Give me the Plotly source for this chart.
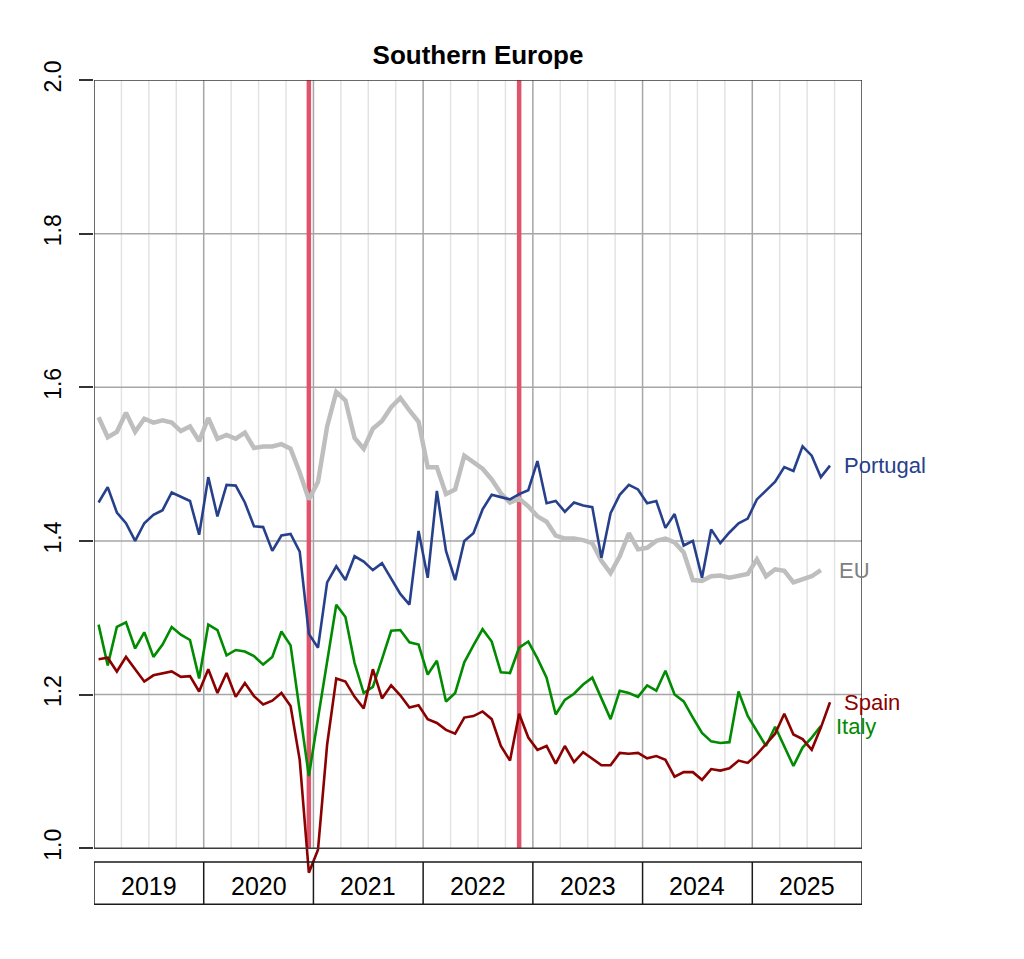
import plotly.graph_objects as go
import pandas as pd

# ---------------- data ----------------
start_month = "2019-01"
portugal = [1.450, 1.470, 1.437, 1.423, 1.400, 1.423, 1.434, 1.440, 1.463, 1.457, 1.452, 1.408,
            1.483, 1.432, 1.473, 1.472, 1.450, 1.419, 1.418, 1.387, 1.407, 1.409, 1.386, 1.279,
            1.261, 1.346, 1.367, 1.349, 1.380, 1.373, 1.362, 1.371, 1.351, 1.331, 1.317, 1.413,
            1.352, 1.465, 1.387, 1.349, 1.400, 1.410, 1.441, 1.460, 1.457, 1.454, 1.461, 1.466,
            1.504, 1.449, 1.452, 1.438, 1.450, 1.446, 1.444, 1.378, 1.436, 1.460, 1.473, 1.467,
            1.449, 1.452, 1.417, 1.435, 1.394, 1.400, 1.352, 1.415, 1.397, 1.411, 1.423, 1.429,
            1.454, 1.466, 1.477, 1.496, 1.491, 1.523, 1.511, 1.483, 1.498]
eu = [1.561, 1.535, 1.542, 1.567, 1.542, 1.559, 1.554, 1.557, 1.554, 1.543, 1.549, 1.530,
      1.560, 1.533, 1.538, 1.533, 1.541, 1.521, 1.523, 1.523, 1.526, 1.520, 1.489, 1.454,
      1.477, 1.549, 1.594, 1.583, 1.534, 1.520, 1.546, 1.556, 1.574, 1.586, 1.570, 1.555,
      1.496, 1.496, 1.461, 1.467, 1.511, 1.502, 1.494, 1.480, 1.462, 1.450, 1.455, 1.445,
      1.432, 1.425, 1.407, 1.403, 1.403, 1.401, 1.397, 1.374, 1.358, 1.380, 1.410, 1.389,
      1.391, 1.400, 1.403, 1.398, 1.385, 1.349, 1.348, 1.354, 1.355, 1.352, 1.355, 1.357,
      1.376, 1.354, 1.363, 1.361, 1.346, 1.350, 1.354, 1.362]
italy = [1.291, 1.238, 1.288, 1.294, 1.260, 1.281, 1.249, 1.265, 1.288, 1.278, 1.271, 1.221,
         1.291, 1.284, 1.251, 1.258, 1.256, 1.250, 1.239, 1.249, 1.282, 1.264, 1.179, 1.094,
         1.169, 1.242, 1.317, 1.301, 1.241, 1.202, 1.210, 1.246, 1.283, 1.284, 1.268, 1.265,
         1.226, 1.244, 1.191, 1.202, 1.242, 1.264, 1.285, 1.269, 1.229, 1.228, 1.261, 1.269,
         1.247, 1.222, 1.174, 1.193, 1.201, 1.213, 1.222, 1.195, 1.168, 1.205, 1.202, 1.197,
         1.212, 1.205, 1.231, 1.200, 1.191, 1.170, 1.150, 1.139, 1.137, 1.138, 1.204, 1.172,
         1.152, 1.133, 1.158, 1.133, 1.107, 1.131, 1.144, 1.159]
spain = [1.246, 1.248, 1.230, 1.249, 1.233, 1.217, 1.225, 1.228, 1.230, 1.223, 1.224, 1.204,
         1.233, 1.202, 1.228, 1.197, 1.215, 1.198, 1.187, 1.192, 1.202, 1.185, 1.115, 0.968,
         0.998, 1.135, 1.221, 1.217, 1.197, 1.182, 1.233, 1.195, 1.212, 1.199, 1.183, 1.186,
         1.168, 1.163, 1.154, 1.149, 1.170, 1.172, 1.178, 1.168, 1.133, 1.114, 1.175, 1.144,
         1.128, 1.133, 1.110, 1.133, 1.112, 1.125, 1.116, 1.108, 1.108, 1.124, 1.123, 1.124,
         1.117, 1.120, 1.115, 1.093, 1.099, 1.099, 1.089, 1.103, 1.101, 1.104, 1.114, 1.111,
         1.122, 1.135, 1.149, 1.175, 1.148, 1.142, 1.128, 1.157, 1.190]
event_months = ["2020-12", "2022-11"]
years = [2019, 2020, 2021, 2022, 2023, 2024, 2025]
ytick_vals = [1.0, 1.2, 1.4, 1.6, 1.8, 2.0]
ytick_text = ["1.0", "1.2", "1.4", "1.6", "1.8", "2.0"]
title = "Southern Europe"

# ---------------- helpers ----------------
def month_x(n):
    p = pd.period_range(start_month, periods=n, freq="M")
    return [pp.year + (pp.month - 0.5) / 12 for pp in p]

def period_x(s):
    p = pd.Period(s, freq="M")
    return p.year + (p.month - 0.5) / 12

FONT = "Liberation Sans, Arial, sans-serif"
x0, x1 = years[0], years[-1] + 1
ylo, yhi = ytick_vals[0], ytick_vals[-1]

series = [
    ("EU", eu, "#BEBEBE", 4.5, "#808080", 16),
    ("Portugal", portugal, "#27408B", 2.6, "#27408B", 12),
    ("Italy", italy, "#008B00", 2.6, "#008B00", 13),
    ("Spain", spain, "#8B0000", 2.6, "#8B0000", 12),
]

fig = go.Figure()
for name, vals, col, w, lcol, xs in series:
    fig.add_trace(go.Scatter(x=month_x(len(vals)), y=vals, mode="lines", name=name,
                             line=dict(color=col, width=w), showlegend=False,
                             hoverinfo="skip"))

shapes = []
# quarterly light grid
for y in years:
    for q in (0.25, 0.5, 0.75):
        shapes.append(dict(type="line", xref="x", yref="y", x0=y + q, x1=y + q, y0=ylo, y1=yhi,
                           line=dict(color="#E3E3E3", width=1.5), layer="below"))
# year grid
for y in years[1:]:
    shapes.append(dict(type="line", xref="x", yref="y", x0=y, x1=y, y0=ylo, y1=yhi,
                       line=dict(color="#A6A6A6", width=1.5), layer="below"))
# horizontal grid
for v in ytick_vals[1:-1]:
    shapes.append(dict(type="line", xref="x", yref="y", x0=x0, x1=x1, y0=v, y1=v,
                       line=dict(color="#A6A6A6", width=1.5), layer="below"))
# event lines
for e in event_months:
    xe = period_x(e)
    shapes.append(dict(type="line", xref="x", yref="y", x0=xe, x1=xe, y0=ylo, y1=yhi,
                       line=dict(color="#DF536B", width=4.5), layer="below"))
# plot frame
shapes.append(dict(type="rect", xref="x", yref="y", x0=x0, x1=x1, y0=ylo, y1=yhi,
                   line=dict(color="#3A3A3A", width=1.5), fillcolor="rgba(0,0,0,0)", layer="above"))
# year strip
strip_top, strip_bot = 0.982, 0.927
shapes.append(dict(type="rect", xref="x", yref="y", x0=x0, x1=x1, y0=strip_bot, y1=strip_top,
                   line=dict(color="#1A1A1A", width=1.5), fillcolor="rgba(0,0,0,0)", layer="above"))
for y in years[1:]:
    shapes.append(dict(type="line", xref="x", yref="y", x0=y, x1=y, y0=strip_bot, y1=strip_top,
                       line=dict(color="#1A1A1A", width=1.5), layer="above"))

annotations = []
for y in years:
    annotations.append(dict(x=y + 0.5, y=(strip_top + strip_bot) / 2, xref="x", yref="y",
                            text=str(y), showarrow=False, xanchor="center", yanchor="middle",
                            yshift=-3,
                            font=dict(family=FONT, size=25, color="black")))
for name, vals, col, w, lcol, xs in series:
    xl = month_x(len(vals))[-1]
    annotations.append(dict(x=xl, y=vals[-1], xref="x", yref="y", text=name, showarrow=False,
                            xanchor="left", yanchor="middle", xshift=xs,
                            font=dict(family=FONT, size=22, color=lcol)))

fig.update_layout(
    width=1024, height=959,
    margin=dict(l=94, r=162, t=80, b=34),
    paper_bgcolor="white", plot_bgcolor="white",
    title=dict(text="<b>" + title + "</b>", x=0.5, xref="paper", xanchor="center",
               y=1 - 55 / 959, yanchor="middle",
               font=dict(family=FONT, size=26, color="black")),
    xaxis=dict(range=[x0, x1], showgrid=False, zeroline=False, showline=False,
               showticklabels=False, ticks=""),
    yaxis=dict(range=[0.9, yhi], showgrid=False, zeroline=False, showline=False,
               tickvals=ytick_vals, ticktext=ytick_text, tickangle=-90,
               ticks="outside", ticklen=14, tickwidth=1.5, tickcolor="#333333",
               ticklabelstandoff=9,
               tickfont=dict(family=FONT, size=23, color="black")),
    shapes=shapes, annotations=annotations,
)

fig.write_html("out.html")
